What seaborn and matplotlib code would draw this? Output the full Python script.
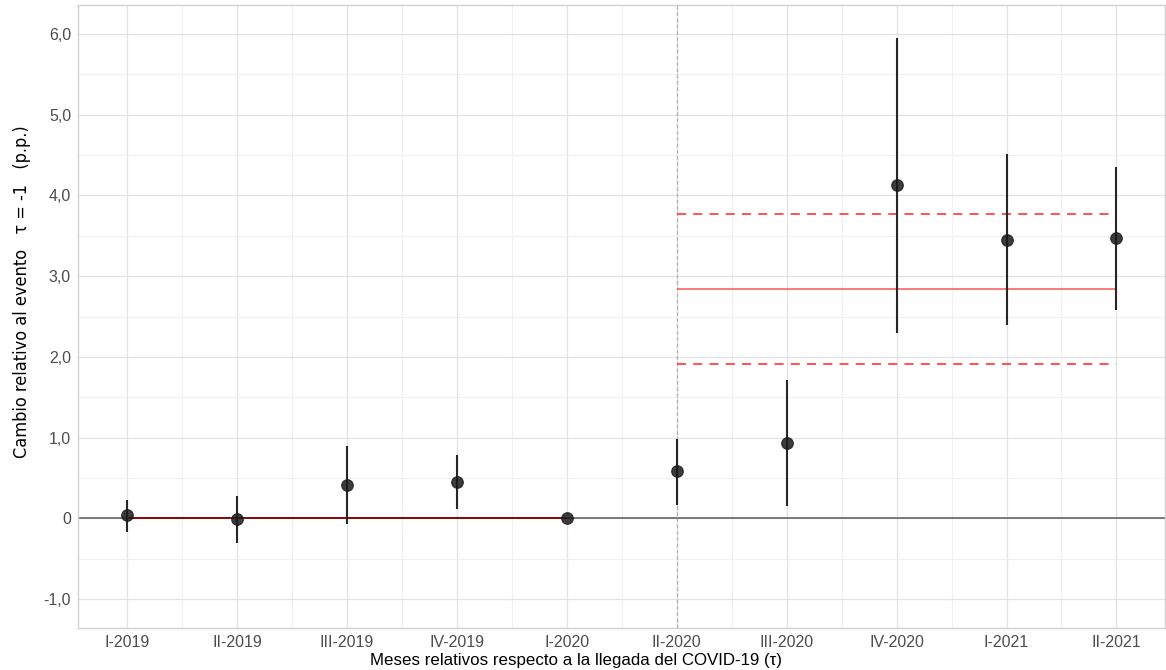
import numpy as np
import pandas as pd
import seaborn as sns
import matplotlib.pyplot as plt

# === Data ===
periods = ["I-2019", "II-2019", "III-2019", "IV-2019", "I-2020",
           "II-2020", "III-2020", "IV-2020", "I-2021", "II-2021"]
estimate = [0.04, -0.01, 0.41, 0.45, 0.0, 0.58, 0.93, 4.13, 3.45, 3.47]
ci_low = [-0.17, -0.31, -0.07, 0.11, np.nan, 0.17, 0.15, 2.30, 2.39, 2.58]
ci_high = [0.23, 0.28, 0.90, 0.78, np.nan, 0.98, 1.71, 5.95, 4.51, 4.35]

pre_mean = 0.0
post_mean = 2.835
post_low = 1.91
post_high = 3.765
event_period = "II-2020"

y_ticks = [-1, 0, 1, 2, 3, 4, 5, 6]
y_ticklabels = ["-1,0", "0", "1,0", "2,0", "3,0", "4,0", "5,0", "6,0"]

df = pd.DataFrame({"period": periods, "estimate": estimate,
                   "ci_low": ci_low, "ci_high": ci_high})
df["pos"] = np.arange(len(periods))

# === Plot ===
sns.set_theme(style="white")
plt.rcParams["font.family"] = ["Liberation Sans", "DejaVu Sans"]

fig = plt.figure(figsize=(11.66, 6.70), dpi=100)
ax = fig.add_axes([0.0669, 0.0627, 0.9321, 0.9298])

ev = periods.index(event_period)
pre = df[df["pos"] <= periods.index("I-2020")]
post = df[df["pos"] >= ev]

# grid
ax.set_xticks(df["pos"])
ax.set_xticks(np.arange(-0.5, len(periods), 1.0), minor=True)
ax.set_yticks(y_ticks)
ax.set_yticks(np.arange(-1.5, 6.6, 1.0), minor=True)
ax.grid(which="major", color="#e3e3e3", linewidth=0.9)
ax.grid(which="minor", color="#f0f0f0", linewidth=0.8)
ax.set_axisbelow(True)

ax.axhline(0, color="#666666", linewidth=1.2, zorder=1)
ax.axvline(ev, color="#b0b0b0", linewidth=0.9, linestyle=(0, (3, 2)), zorder=1)

# reference lines
ax.hlines(pre_mean, pre["pos"].min(), pre["pos"].max(), color="#8b0000", linewidth=1.3, zorder=2)
ax.hlines(post_mean, post["pos"].min(), post["pos"].max(), color="#ff5555", linewidth=1.1, zorder=2)
ax.hlines([post_low, post_high], post["pos"].min(), post["pos"].max(),
          color="#ff4444", linewidth=1.3, linestyle=(0, (5, 4)), zorder=2)

# CIs and points
ci = df.dropna()
ax.vlines(ci["pos"], ci["ci_low"], ci["ci_high"], color="#262626", linewidth=1.5, zorder=3)
sns.scatterplot(data=df, x="pos", y="estimate", ax=ax, s=70, color="#1a1a1a",
                edgecolor="#1a1a1a", linewidth=0.8, alpha=0.85, zorder=4, legend=False)

ax.set_xlim(-0.445, 9.44)
ax.set_ylim(-1.36, 6.36)
ax.set_xticklabels(periods, fontsize=11.5, color="#4d4d4d")
ax.set_yticklabels(y_ticklabels, fontsize=11.5, color="#4d4d4d")
ax.tick_params(axis="both", which="both", length=0, pad=5)

for s in ax.spines.values():
    s.set_color("#d0d0d0")
    s.set_linewidth(1.0)

ax.set_xlabel("Meses relativos respecto a la llegada del COVID-19 (τ)",
              fontsize=12.2, color="black")
ax.xaxis.set_label_coords(0.458, -0.0405)
ax.set_ylabel("Cambio relativo al evento   τ = -1   (p.p.)", fontsize=13,
              color="black", family=["DejaVu Sans", "Liberation Sans"],
              fontstretch="condensed")
ax.yaxis.set_label_coords(-0.043, 0.54)

fig.savefig("out.png", dpi=100)
